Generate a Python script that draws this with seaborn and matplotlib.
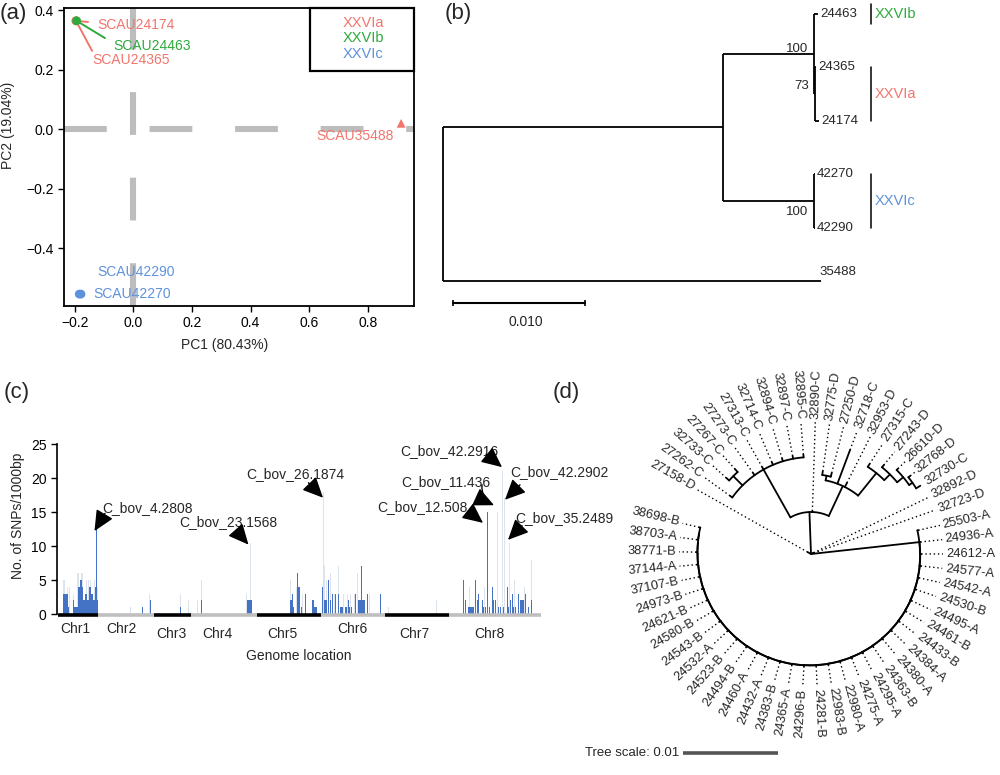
import numpy as np
import pandas as pd
import matplotlib
matplotlib.use('Agg')
import matplotlib.pyplot as plt
import seaborn as sns
from matplotlib.patches import Rectangle

sns.set_theme(style='ticks')
plt.rcParams['font.family'] = ['Liberation Sans', 'DejaVu Sans']
plt.rcParams['axes.edgecolor'] = 'black'
plt.rcParams['xtick.color'] = 'black'
plt.rcParams['ytick.color'] = 'black'

RED = '#F2756C'
GREEN = '#2DAA3C'
BLUE = '#5E91DC'
GROUP_COLORS = {'XXVIa': RED, 'XXVIb': GREEN, 'XXVIc': BLUE}

# ---------------- (a) PCA ----------------
PCA_IDS = ['SCAU24174', 'SCAU24365', 'SCAU24463', 'SCAU35488', 'SCAU42290', 'SCAU42270']
PC1 = [-0.196, -0.196, -0.194, 0.914, -0.185, -0.179]
PC2 = [0.364, 0.364, 0.364, 0.020, -0.553, -0.553]
PCA_GROUP = ['XXVIa', 'XXVIa', 'XXVIb', 'XXVIa', 'XXVIc', 'XXVIc']
PCA_SHAPE = ['circle', 'circle', 'circle', 'triangle', 'circle', 'circle']
PCA_TEXT_X = [-0.124, -0.141, -0.070, 0.626, -0.124, -0.137]
PCA_TEXT_Y = [0.350, 0.233, 0.280, -0.022, -0.478, -0.552]
LEADER_X = [-0.155, -0.141, -0.097, None, None, None]
LEADER_Y = [0.360, 0.263, 0.306, None, None, None]

# ---------------- (b) tree ----------------
TREE_B = "(((24463:0.0003,(24365:0.00008,24174:0.0003)73:0.00008)100:0.00689,(42270:0.00008,42290:0.00008)100:0.00689):0.02121,35488:0.02864);"
SUPPORT_DY = [-0.15, -0.09, 0.21]
CLADES_B = [('XXVIb', 0, 0), ('XXVIa', 1, 2), ('XXVIc', 3, 4)]

# ---------------- (c) SNP density ----------------
CHR_NAMES = ['Chr1', 'Chr2', 'Chr3', 'Chr4', 'Chr5', 'Chr6', 'Chr7', 'Chr8']
CHR_EDGES = [0, 40, 96, 133, 199, 263, 327, 391, 483]
CHR_LABEL_X = [17, 63, 113, 159, 224, 294, 356, 431]
CHR_LABEL_Y = [-2.2, -2.2, -2.9, -2.9, -2.9, -2.2, -2.9, -2.9]

BLUE_POS = [5, 6, 7, 8, 9, 10, 15, 16, 17, 18, 19, 20, 21, 22, 23, 24, 25, 26, 27, 28, 29, 30,
            31, 32, 33, 34, 35, 36, 37, 38, 39,
            84, 92, 122, 143, 189, 190, 191, 192, 193,
            232, 233, 234, 235, 239, 240, 241, 243, 247, 254, 255, 256, 257, 258,
            264, 266, 267, 268, 270, 272, 274, 277, 280, 282, 283, 284, 287, 288, 290, 291, 293,
            297, 300, 301, 302, 303, 304, 305, 306, 309, 322,
            405, 407, 410, 411, 412, 413, 414, 415, 417, 419, 420, 424, 425, 427, 429, 431, 434,
            435, 437, 440, 442, 445, 449, 450, 452, 454, 455, 457, 460, 462, 463, 464, 465, 467,
            470, 473]
BLUE_H = [3, 3, 3, 3, 3, 1, 2, 1, 1, 1, 1, 4, 4, 5, 5, 4, 2, 2, 3, 3, 2, 2,
          4, 4, 3, 3, 2, 2, 4, 12.5, 2,
          1, 2, 1, 2, 2, 2, 2, 2, 2,
          2, 2, 3, 1, 6, 4, 4, 1, 3, 2, 2, 1, 1, 1,
          4, 2, 2, 2, 5, 2, 3, 3, 3, 1, 1, 1, 1, 1, 2, 1, 1,
          3, 2, 2, 2, 7, 2, 2, 2, 3, 3,
          5, 2, 1, 1, 1, 1, 1, 1, 5, 2, 3, 2, 1, 1, 15, 1, 4,
          2, 2, 1, 1, 1, 4, 1, 2, 3, 1, 1, 3, 2, 2, 2, 2, 3,
          1, 2]
LIGHT_POS = [5, 6, 9, 11, 15, 19, 20, 23, 24, 28, 30, 32, 36, 38, 39,
             72, 91, 122, 130, 139, 143, 188, 192,
             232, 234, 238, 240, 244, 255,
             265, 266, 268, 272, 276, 280, 285, 289, 292, 296, 299, 303, 311,
             330, 378,
             405, 411, 417, 426, 434, 439, 444, 446, 451, 456, 466, 473]
LIGHT_H = [5, 5, 4, 4, 3, 6, 6, 6, 6, 5, 5, 5, 5, 12.5, 4,
           1, 3, 3, 2, 2, 5, 3, 10.5,
           5, 3, 4, 3.5, 3, 2,
           18, 7, 5, 6, 3, 7, 3, 3, 3, 3, 6, 7, 3,
           1, 2,
           5, 4, 5, 4, 4, 15, 21, 17, 10.5, 5, 4, 8]

ANN_TEXT = ['C_bov_4.2808', 'C_bov_23.1568', 'C_bov_26.1874', 'C_bov_42.2916',
            'C_bov_11.436', 'C_bov_12.508', 'C_bov_42.2902', 'C_bov_35.2489']
ANN_TX = [44, 121, 188, 342, 343, 319, 452, 457]
ANN_TY = [15.6, 13.5, 20.6, 24.0, 19.4, 15.7, 20.9, 14.1]
ANN_TAIL_X = [47, 178, 250.5, 428, 424, 412, 462, 464]
ANN_TAIL_Y = [14.8, 12.3, 19.3, 23.5, 19.0, 14.9, 19.0, 13.0]
ANN_TIP_X = [36.5, 190.5, 265, 444, 436, 425, 447, 450]
ANN_TIP_Y = [12.2, 10.2, 17.1, 21.6, 16.0, 13.4, 16.8, 10.9]
ANN_RAD = [0, 0, 0, 0, 0.35, 0, 0, 0]

# ---------------- (d) circular tree ----------------
CD_CLADE = ("((((((32730-C:0.00045,32768-D:0.00025):0.00042,26610-D:0.0002):0.00083,27243-D:0.0003):0.00085,"
            "27315-C:0.00035):0.00305,32953-D:0.0005,32718-C:0.0038,(27250-D:0.0004,32775-D:0.0004):0.0005):0.00348,"
            "32890-C:0.0001,"
            "(32895-C:0.0003,32897-C:0.0003,32894-C:0.0003,32714-C:0.0003,27313-C:0.0003,27273-C:0.0003,"
            "(27267-C:0.0004,32733-C:0.0004):0.00138,27262-C:0.0003):0.00578):0.00442")
AB_TIPS = ['38698-B', '38703-A', '38771-B', '37144-A', '37107-B', '24973-B', '24621-B', '24580-B',
           '24543-B', '24532-A', '24523-B', '24494-B', '24460-A', '24432-A', '24383-B', '24365-A',
           '24296-B', '24281-B', '22983-B', '22980-A', '24275-A', '24295-A', '24363-B', '24380-A',
           '24384-A', '24433-B', '24461-B', '24495-A', '24530-B', '24542-A', '24577-A', '24612-A',
           '24936-A', '25503-A']
AB_STEM = 0.01147
AB_STEP = 0.000016
AB_TIP = 0.0001
TIP_START_DEG = 19.5
TIP_STEP_DEG = 6.24
TIP_GAP_AFTER = {'27158-D': 9.8}


def parse_newick(s):
    s = s.strip().rstrip(';')
    pos = 0

    def read():
        nonlocal pos
        kids = []
        if s[pos] == '(':
            pos += 1
            kids.append(read())
            while s[pos] == ',':
                pos += 1
                kids.append(read())
            pos += 1
        start = pos
        while pos < len(s) and s[pos] not in ',():':
            pos += 1
        name = s[start:pos]
        length = 0.0
        if pos < len(s) and s[pos] == ':':
            pos += 1
            start = pos
            while pos < len(s) and s[pos] not in ',()':
                pos += 1
            length = float(s[start:pos])
        return {'name': name, 'len': length, 'kids': kids}
    return read()


fig = plt.figure(figsize=(10, 7.75), dpi=100)


def px_axes(l, t, r, b):
    return fig.add_axes([l / 1000, 1 - b / 775, (r - l) / 1000, (b - t) / 775])


# ======== panel a ========
ax = px_axes(64, 8, 414, 306)
df = pd.DataFrame({'pc1': PC1, 'pc2': PC2, 'group': PCA_GROUP, 'shape': PCA_SHAPE, 'id': PCA_IDS})
ax.axhline(0, color='#BDBDBD', lw=4.4, dashes=(7, 7), zorder=0)
ax.axvline(0, color='#BDBDBD', lw=4.4, dashes=(7, 7), zorder=0)
for i in range(len(df)):
    if LEADER_X[i] is not None:
        ax.plot([PC1[i], LEADER_X[i]], [PC2[i], LEADER_Y[i]], color=GROUP_COLORS[PCA_GROUP[i]],
                lw=1.4, zorder=2)
sns.scatterplot(data=df, x='pc1', y='pc2', hue='group', style='shape', palette=GROUP_COLORS,
                markers={'circle': 'o', 'triangle': '^'}, s=40, linewidth=0, legend=False,
                ax=ax, zorder=3)
for i in range(len(df)):
    ax.text(PCA_TEXT_X[i], PCA_TEXT_Y[i], PCA_IDS[i], color=GROUP_COLORS[PCA_GROUP[i]],
            fontsize=10, ha='left', va='center', zorder=4)
ax.set_xlim(-0.237, 0.958)
ax.set_ylim(-0.593, 0.407)
ax.set_xticks([-0.2, 0.0, 0.2, 0.4, 0.6, 0.8])
ax.set_yticks([-0.4, -0.2, 0.0, 0.2, 0.4])
ax.set_xticklabels(['\u22120.2', '0.0', '0.2', '0.4', '0.6', '0.8'])
ax.set_yticklabels(['\u22120.4', '\u22120.2', '0.0', '0.2', '0.4'])
ax.tick_params(labelsize=10, length=4, width=1)
for sp in ax.spines.values():
    sp.set_linewidth(1.3)
ax.set_xlabel('PC1 (80.43%)', fontsize=10)
ax.set_ylabel('PC2 (19.04%)', fontsize=10)
ax.xaxis.set_label_coords(0.46, -0.107)
ax.yaxis.set_label_coords(-0.14, 0.607)
ax.add_patch(Rectangle((0.703, 0.789), 0.297, 0.211, transform=ax.transAxes, fill=False,
                       lw=1.6, ec='black', zorder=5, clip_on=False))
for name, yy in zip(['XXVIa', 'XXVIb', 'XXVIc'], [0.95, 0.899, 0.846]):
    ax.text(0.855, yy, name, transform=ax.transAxes, color=GROUP_COLORS[name], fontsize=10.5,
            ha='center', va='center')

# ======== panel b ========
U = 0.01 / 132
axb = px_axes(420, 0, 1000, 380)
axb.axis('off')
root_b = parse_newick(TREE_B)
tips_b = []
support_nodes = []


def layout_rect(node, x0):
    node['x'] = x0 + node['len']
    if node['kids']:
        for k in node['kids']:
            layout_rect(k, node['x'])
        node['y'] = (node['kids'][0]['y'] + node['kids'][-1]['y']) / 2
        if node['name']:
            support_nodes.append(node)
    else:
        node['y'] = len(tips_b)
        tips_b.append(node)


def draw_rect(node):
    if node['kids']:
        axb.plot([node['x'], node['x']], [node['kids'][0]['y'], node['kids'][-1]['y']],
                 color='black', lw=1.3, solid_capstyle='butt')
        for k in node['kids']:
            axb.plot([node['x'], k['x']], [k['y'], k['y']], color='black', lw=1.3,
                     solid_capstyle='butt')
            draw_rect(k)


layout_rect(root_b, 0.0)
draw_rect(root_b)
for t in tips_b:
    if t is tips_b[-1]:
        axb.text(t['x'] - 2 * U, t['y'] - 0.05, t['name'], fontsize=9.5, ha='left', va='bottom')
    else:
        axb.text(t['x'] + 2 * U, t['y'], t['name'], fontsize=9.5, ha='left', va='center')
for node, dy in zip(support_nodes, SUPPORT_DY):
    axb.text(node['x'] - 6 * U, node['y'] + dy, node['name'], fontsize=9.5, ha='right',
             va='center')
bar_x = 428 * U
for name, lo, hi in CLADES_B:
    pad = 0.18 if lo == hi else 0.0
    axb.plot([bar_x, bar_x], [lo - pad, hi + pad], color='black', lw=1.1)
    axb.text(bar_x + 4 * U, (lo + hi) / 2, name, color=GROUP_COLORS[name], fontsize=10.5,
             ha='left', va='center')
axb.plot([10 * U, 10 * U + 0.01], [5.41, 5.41], color='black', lw=1.5, marker='|', ms=5,
         mew=1.2)
axb.text(10 * U + 0.0055, 5.77, '0.010', fontsize=10, ha='center', va='center')
axb.set_xlim(-23 * U, 557 * U)
axb.set_ylim(6.854, -0.262)

# ======== panel c ========
axc = px_axes(57, 444, 541, 614)
axc.bar(LIGHT_POS, LIGHT_H, width=1.0, color='#DDE3EC', linewidth=0, zorder=1)
axc.bar(BLUE_POS, BLUE_H, width=1.0, color='#4472C4', linewidth=0, zorder=2)
for i in range(len(CHR_NAMES)):
    axc.plot([CHR_EDGES[i], CHR_EDGES[i + 1]], [-0.2, -0.2], lw=2.6,
             color='black' if i % 2 == 0 else '#BFBFBF', clip_on=False, solid_capstyle='butt',
             zorder=3)
    axc.text(CHR_LABEL_X[i], CHR_LABEL_Y[i], CHR_NAMES[i], fontsize=10, ha='center',
             va='center', clip_on=False)
for i in range(len(ANN_TEXT)):
    axc.text(ANN_TX[i], ANN_TY[i], ANN_TEXT[i], fontsize=10, ha='left', va='center',
             clip_on=False)
    axc.annotate('', xy=(ANN_TIP_X[i], ANN_TIP_Y[i]), xytext=(ANN_TAIL_X[i], ANN_TAIL_Y[i]),
                 arrowprops=dict(arrowstyle='-|>,head_length=0.9,head_width=0.42',
                                 color='black', lw=1, shrinkA=0, shrinkB=0, mutation_scale=14,
                                 connectionstyle=f'arc3,rad={ANN_RAD[i]}'),
                 annotation_clip=False)
axc.set_xlim(-1, 483)
axc.set_ylim(0, 25)
axc.set_yticks([0, 5, 10, 15, 20, 25])
axc.set_xticks([])
axc.tick_params(axis='y', labelsize=10, length=4, width=1)
axc.spines['top'].set_visible(False)
axc.spines['right'].set_visible(False)
axc.spines['bottom'].set_visible(False)
axc.spines['left'].set_linewidth(1.2)
axc.set_ylabel('No. of SNPs/1000bp', fontsize=10)
axc.yaxis.set_label_coords(-0.066, 0.576)
axc.text(241, -6.2, 'Genome location', fontsize=10, ha='center', va='center', clip_on=False)

# ======== panel d ========
S = 9500.0
axd = px_axes(530, 380, 1000, 775)
axd.axis('off')
ab = f'{AB_TIPS[0]}:{AB_TIP}'
for name in AB_TIPS[1:-1]:
    ab = f'({ab},{name}:{AB_TIP}):{AB_STEP}'
ab = f'({ab},{AB_TIPS[-1]}:{AB_TIP}):{AB_STEM}'
TREE_D = '(32723-D:0.0003,32892-D:0.0003,' + CD_CLADE + ',27158-D:0.0004,' + ab + ');'
root_d = parse_newick(TREE_D)
R_LAB = 135 / S
tips_d = []
next_angle = [TIP_START_DEG]


def layout_circ(node, r0):
    node['r'] = r0 + node['len']
    if node['kids']:
        for k in node['kids']:
            layout_circ(k, node['r'])
        node['a'] = (node['kids'][0]['a'] + node['kids'][-1]['a']) / 2
    else:
        node['a'] = next_angle[0]
        next_angle[0] += TIP_STEP_DEG + TIP_GAP_AFTER.get(node['name'], 0.0)
        tips_d.append(node)


def draw_circ(node):
    if node['kids']:
        a0, a1 = node['kids'][0]['a'], node['kids'][-1]['a']
        th = np.radians(np.linspace(a0, a1, 40))
        axd.plot(node['r'] * np.cos(th), node['r'] * np.sin(th), color='black', lw=1.3)
        for k in node['kids']:
            t = np.radians(k['a'])
            axd.plot([node['r'] * np.cos(t), k['r'] * np.cos(t)],
                     [node['r'] * np.sin(t), k['r'] * np.sin(t)], color='black', lw=1.3)
            draw_circ(k)


layout_circ(root_d, 0.0)
draw_circ(root_d)
for t in tips_d:
    a = t['a'] % 360
    th = np.radians(a)
    axd.plot([t['r'] * np.cos(th), (R_LAB - 3 / S) * np.cos(th)],
             [t['r'] * np.sin(th), (R_LAB - 3 / S) * np.sin(th)],
             color='black', lw=1.0, linestyle=(0, (1, 2)))
    if 90 < a < 270:
        rot, ha = a - 180, 'right'
    else:
        rot, ha = (a - 360 if a > 270 else a), 'left'
    axd.text(R_LAB * np.cos(th), R_LAB * np.sin(th), t['name'], fontsize=9.3, rotation=rot,
             rotation_mode='anchor', ha=ha, va='center')
axd.plot([(683 - 811) / S, (683 - 811) / S + 0.01], [(554 - 753) / S] * 2, color='#555555',
         lw=2.6, solid_capstyle='butt')
axd.text((679 - 811) / S, (554 - 753) / S, 'Tree scale: 0.01', fontsize=9.5, ha='right',
         va='center')
axd.set_xlim((530 - 811) / S, (1000 - 811) / S)
axd.set_ylim((554 - 775) / S, (554 - 380) / S)

# panel letters
for letter, x, y in [('(a)', 0, 13), ('(b)', 445, 13), ('(c)', 4, 392), ('(d)', 553, 392)]:
    fig.text(x / 1000, 1 - y / 775, letter, fontsize=16, ha='left', va='center')

fig.savefig('out.png', dpi=100)
